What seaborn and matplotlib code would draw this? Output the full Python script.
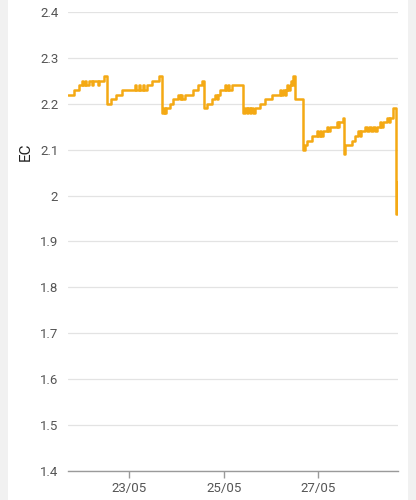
import matplotlib
matplotlib.use("Agg")
import matplotlib.pyplot as plt
import matplotlib.dates as mdates
from matplotlib.patches import Rectangle
import seaborn as sns
import pandas as pd

times = [
    "05-21 17:00", "05-21 20:00", "05-21 22:30", "05-22 00:00", "05-22 00:30", "05-22 01:30",
    "05-22 02:00", "05-22 03:40", "05-22 05:00", "05-22 05:30", "05-22 08:00", "05-22 08:40",
    "05-22 11:15", "05-22 12:50", "05-22 14:50", "05-22 17:20", "05-22 20:30",
    "05-23 03:00", "05-23 03:40", "05-23 05:00", "05-23 05:30", "05-23 07:00", "05-23 07:40",
    "05-23 09:00", "05-23 11:40", "05-23 15:00", "05-23 16:30", "05-23 17:30", "05-23 18:00",
    "05-23 18:50", "05-23 20:50", "05-23 22:30",
    "05-24 01:00", "05-24 01:40", "05-24 02:30", "05-24 03:00", "05-24 04:20", "05-24 08:30",
    "05-24 11:00", "05-24 13:00", "05-24 14:00", "05-24 15:40", "05-24 18:00", "05-24 19:40",
    "05-24 20:30", "05-24 21:00", "05-24 22:10",
    "05-25 00:40", "05-25 01:20", "05-25 02:00", "05-25 02:40", "05-25 04:20", "05-25 09:50",
    "05-25 11:00", "05-25 11:40", "05-25 12:30", "05-25 13:10", "05-25 14:00", "05-25 15:00",
    "05-25 16:00", "05-25 18:30", "05-25 21:00",
    "05-26 00:40", "05-26 04:40", "05-26 05:20", "05-26 06:00", "05-26 07:00", "05-26 07:40",
    "05-26 08:10", "05-26 08:40", "05-26 09:30", "05-26 10:00", "05-26 10:40", "05-26 11:00",
    "05-26 11:10", "05-26 12:10", "05-26 16:20", "05-26 17:20", "05-26 18:20", "05-26 20:50",
    "05-26 23:20",
    "05-27 00:00", "05-27 01:00", "05-27 01:40", "05-27 02:30", "05-27 04:30", "05-27 05:10",
    "05-27 05:50", "05-27 09:30", "05-27 10:00", "05-27 10:40", "05-27 12:30", "05-27 13:00",
    "05-27 13:30", "05-27 17:10", "05-27 18:40", "05-27 20:10", "05-27 21:00", "05-27 21:40",
    "05-27 23:40",
    "05-28 01:00", "05-28 02:00", "05-28 03:00", "05-28 04:00", "05-28 05:00", "05-28 05:40",
    "05-28 07:20", "05-28 08:00", "05-28 08:40", "05-28 10:50", "05-28 12:00", "05-28 12:40",
    "05-28 14:00", "05-28 15:20", "05-28 16:00", "05-28 16:30",
]
ec_values = [
    2.22, 2.23, 2.24, 2.25, 2.24, 2.25,
    2.24, 2.25, 2.24, 2.25, 2.24, 2.25,
    2.26, 2.20, 2.21, 2.22, 2.23,
    2.24, 2.23, 2.24, 2.23, 2.24, 2.23,
    2.24, 2.25, 2.26, 2.18, 2.19, 2.18,
    2.19, 2.20, 2.21,
    2.22, 2.21, 2.22, 2.21, 2.22, 2.23,
    2.24, 2.25, 2.19, 2.20, 2.21, 2.22,
    2.21, 2.22, 2.23,
    2.24, 2.23, 2.24, 2.23, 2.24, 2.18,
    2.19, 2.18, 2.19, 2.18, 2.19, 2.18,
    2.19, 2.20, 2.21,
    2.22, 2.23, 2.22, 2.23, 2.22, 2.23,
    2.24, 2.23, 2.24, 2.25, 2.24, 2.25,
    2.26, 2.21, 2.10, 2.11, 2.12, 2.13,
    2.14,
    2.13, 2.14, 2.13, 2.14, 2.15, 2.14,
    2.15, 2.16, 2.15, 2.16, 2.17, 2.09,
    2.11, 2.12, 2.13, 2.14, 2.13, 2.14,
    2.15,
    2.14, 2.15, 2.14, 2.15, 2.14, 2.15,
    2.16, 2.15, 2.16, 2.17, 2.16, 2.17,
    2.19, 1.96, 2.03, 2.03,
]
x_tick_dates = ["05-23", "05-25", "05-27"]
y_ticks = [1.4, 1.5, 1.6, 1.7, 1.8, 1.9, 2.0, 2.1, 2.2, 2.3, 2.4]
y_label = "EC"
year = "2024"

df = pd.DataFrame({
    "time": pd.to_datetime([f"{year}-{t}" for t in times], format="%Y-%m-%d %H:%M"),
    "EC": ec_values,
})

sns.set_theme(style="white")
plt.rcParams["font.family"] = ["Roboto", "DejaVu Sans"]

fig = plt.figure(figsize=(4.16, 5.0), dpi=100)
fig.patch.set_facecolor("#f1f1f1")
fig.add_artist(Rectangle((8 / 416, 0), 400 / 416, 1, transform=fig.transFigure,
                         facecolor="white", edgecolor="none", zorder=0))
ax = fig.add_axes([68 / 416, 1 - 471 / 500, 330 / 416, 459 / 500])
ax.set_facecolor("white")

sns.lineplot(data=df, x="time", y="EC", ax=ax, color="#F4A914", linewidth=1.8,
             drawstyle="steps-post", estimator=None)

ax.set_ylim(1.4, 2.4)
ax.set_xlim(df["time"].min(), df["time"].max())
ax.set_yticks(y_ticks)
ax.set_yticklabels([f"{v:g}" for v in y_ticks])
ax.set_xticks(pd.to_datetime([f"{year}-{d}" for d in x_tick_dates]))
ax.xaxis.set_major_formatter(mdates.DateFormatter("%d/%m"))

ax.grid(axis="y", color="#e3e3e3", linewidth=0.9)
ax.grid(axis="x", visible=False)
for s in ["left", "right", "top"]:
    ax.spines[s].set_visible(False)
ax.spines["bottom"].set_color("#9a9a9a")
ax.spines["bottom"].set_linewidth(1.0)

ax.tick_params(axis="y", length=0, pad=7, labelsize=9.5, labelcolor="#555555")
ax.tick_params(axis="x", length=5, width=1.0, color="#9a9a9a", pad=3,
               labelsize=9.5, labelcolor="#555555", bottom=True)
ax.set_xlabel("")
ax.set_ylabel(y_label, fontsize=11, color="#222222")
ax.yaxis.set_label_coords(-0.108, (471 - 152) / 459)

fig.savefig("out.png", dpi=100, facecolor=fig.get_facecolor())
